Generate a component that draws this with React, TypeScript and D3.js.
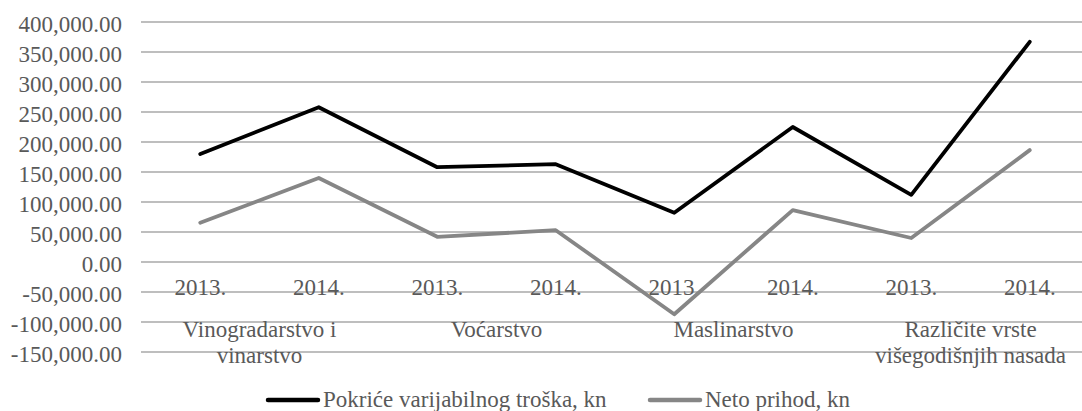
import React, { useEffect } from 'react';
import * as d3 from 'd3';

const years = ['2013.', '2014.', '2013.', '2014.', '2013.', '2014.', '2013.', '2014.'];
const groups = [['Vinogradarstvo i', 'vinarstvo'], ['Voćarstvo'], ['Maslinarstvo'], ['Različite vrste', 'višegodišnjih nasada']];
const pokrice = [180000, 258000, 158000, 163000, 82000, 225000, 112000, 367000];
const netoPrihod = [65500, 140000, 42000, 53000, -87000, 86500, 40000, 186500];
const yTicks = [-150000, -100000, -50000, 0, 50000, 100000, 150000, 200000, 250000, 300000, 350000, 400000];
const seriesNames = ['Pokriće varijabilnog troška, kn', 'Neto prihod, kn'];
const seriesColors = ['#000000', '#868686'];

const W = 1082;
const H = 411;
const FONT = 'Liberation Serif';
const FS = 23;
const TXT = '#595959';

const plotLeft = 141, plotRight = 1089;
const x = d3.scaleBand<number>().domain(d3.range(years.length)).range([plotLeft, plotRight]);
const y = d3.scaleLinear().domain([-150000, 400000]).range([352, 22]);
const cx = (i: number) => (x(i) as number) + x.bandwidth() / 2;
const fmt = d3.format(',.2f');
const line = d3.line<number>().x((d, i) => cx(i)).y(d => y(d));

export default function App() {
    useEffect(() => {
        document.body.style.margin = '0';
    }, []);

    const textProps = { fontSize: FS, fill: TXT, fontFamily: FONT };
    const legendX = [268, 650];

    return (
        <svg width={W} height={H} style={{ display: 'block', background: '#fff' }}>
            {/* horizontal gridlines */}
            {yTicks.map(t => (
                <line key={'g' + t} x1={plotLeft} x2={plotRight} y1={y(t)} y2={y(t)} stroke="#a8a8a8" strokeWidth={1.4} />
            ))}
            {/* y axis labels */}
            {yTicks.map(t => (
                <text key={'l' + t} x={122} y={y(t) + 10} textAnchor="end" {...textProps}>
                    {fmt(t).replace('−', '-')}
                </text>
            ))}
            {/* years, sitting on the zero line */}
            {years.map((yr, i) => (
                <text key={'y' + i} x={cx(i)} y={295} textAnchor="middle" {...textProps}>{yr}</text>
            ))}
            {/* category groups */}
            {groups.map((lines, gi) => {
                const gx = (cx(gi * 2) + cx(gi * 2 + 1)) / 2;
                return lines.map((t, li) => (
                    <text key={'c' + gi + li} x={gx} y={337 + li * 26} textAnchor="middle" {...textProps}>{t}</text>
                ));
            })}
            {[pokrice, netoPrihod].map((s, si) => (
                <path key={'s' + si} d={line(s) || ''} fill="none" stroke={seriesColors[si]} strokeWidth={3.8}
                    strokeLinejoin="round" strokeLinecap="round" />
            ))}
            {/* legend */}
            {seriesNames.map((name, si) => (
                <g key={'lg' + si}>
                    <line x1={legendX[si]} x2={legendX[si] + 50} y1={400} y2={400} stroke={seriesColors[si]}
                        strokeWidth={4.5} strokeLinecap="round" />
                    <text x={legendX[si] + 55} y={407} {...textProps}>{name}</text>
                </g>
            ))}
        </svg>
    );
}
